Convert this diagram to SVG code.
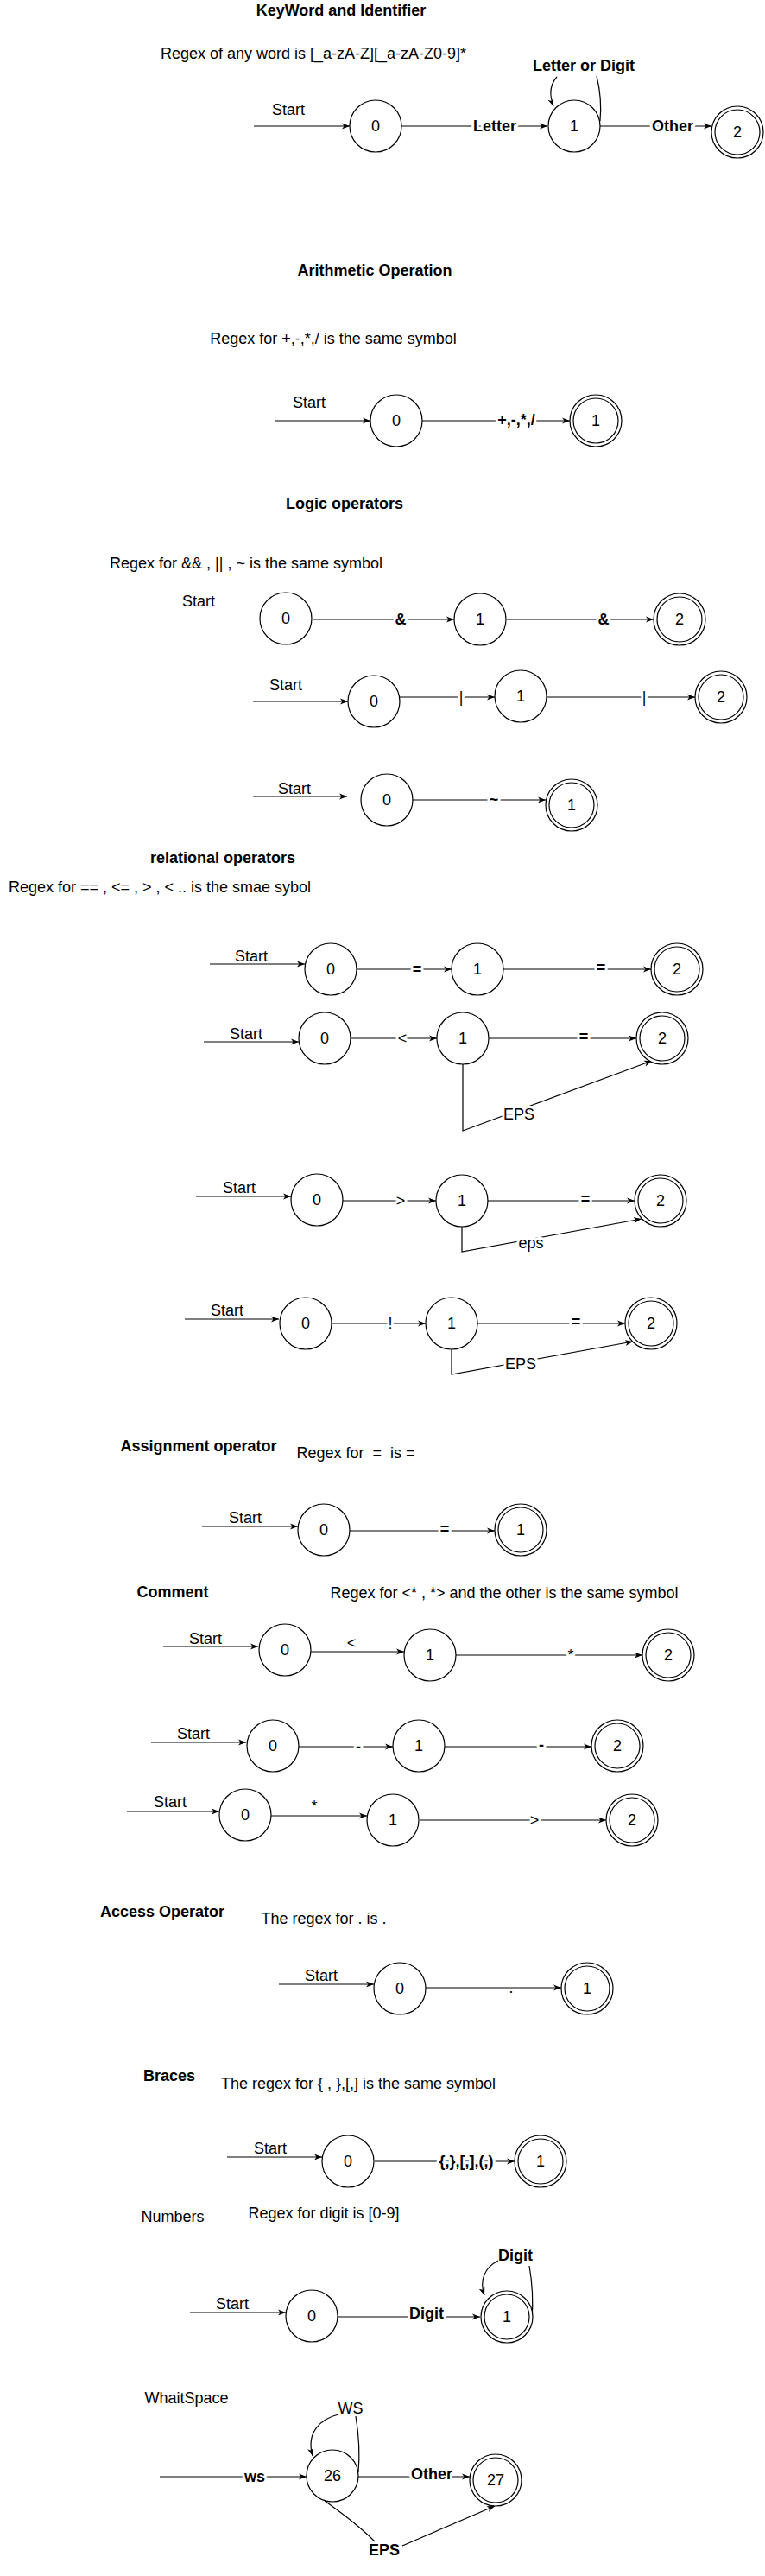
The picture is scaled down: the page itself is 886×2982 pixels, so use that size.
<svg xmlns="http://www.w3.org/2000/svg" width="886" height="2982" viewBox="0 0 886 2982">
<style>
text{font-family:"Liberation Sans",Arial,Helvetica,sans-serif;font-size:18px;fill:#000;text-anchor:middle}
.b{font-weight:bold}
.h{paint-order:stroke;stroke:#fff;stroke-width:6px;stroke-linejoin:round}
.c{fill:#fff;stroke:#000;stroke-width:1.2}
.i{fill:none;stroke:#000;stroke-width:1.2}
.e{fill:none;stroke:#000;stroke-width:1.2;marker-end:url(#a)}
.l{fill:none;stroke:#000;stroke-width:1.2}
</style>
<defs>
<marker id="a" markerUnits="userSpaceOnUse" markerWidth="10" markerHeight="8" refX="9" refY="4" orient="auto">
<path d="M0,0.5 L9,4 L0,7.5 L2.5,4 z" fill="#000"/>
</marker>
</defs>
<rect width="886" height="2982" fill="#fff"/>

<g id="connectors">
<!-- Section 1 -->
<path class="e" d="M294,146 L405,146"/>
<path class="e" d="M465,146 L634,146"/>
<path class="e" d="M695,146 L824,146"/>
<path class="l" d="M695,140 C697,118 694,100 691,88"/>
<path class="e" d="M645,89 C637,98 636,110 641,123"/>
<!-- Section 2 -->
<path class="e" d="M319,487 L429,487"/>
<path class="e" d="M489,487 L660,487"/>
<!-- Logic -->
<path class="e" d="M362,717 L526,717"/>
<path class="e" d="M587,717 L757,717"/>
<path class="e" d="M293,812 L403,812"/>
<path class="e" d="M463,807 L573,807"/>
<path class="e" d="M633,807 L805,807"/>
<path class="e" d="M293,922 L402,922"/>
<path class="e" d="M478,926 L632,926"/>
<!-- Relational -->
<path class="e" d="M243,1116 L353,1116"/>
<path class="e" d="M413,1122 L523,1122"/>
<path class="e" d="M583,1122 L754,1122"/>
<path class="e" d="M236,1206 L346,1206"/>
<path class="e" d="M406,1202 L506,1202"/>
<path class="e" d="M566,1202 L737,1202"/>
<path class="e" d="M536,1232 L536,1309 L755,1228"/>
<path class="e" d="M227,1385 L337,1385"/>
<path class="e" d="M397,1390 L505,1390"/>
<path class="e" d="M565,1390 L735,1390"/>
<path class="e" d="M535,1420 L535,1449 L743,1411"/>
<path class="e" d="M214,1527 L323,1527"/>
<path class="e" d="M384,1532 L493,1532"/>
<path class="e" d="M553,1532 L724,1532"/>
<path class="e" d="M523,1562 L523,1591 L733,1553"/>
<!-- Assignment -->
<path class="e" d="M234,1767 L345,1767"/>
<path class="e" d="M405,1772 L573,1772"/>
<!-- Comment -->
<path class="e" d="M189,1906 L299,1906"/>
<path class="e" d="M360,1912 L468,1912"/>
<path class="e" d="M528,1916 L744,1916"/>
<path class="e" d="M175,2017 L285,2017"/>
<path class="e" d="M346,2022 L455,2022"/>
<path class="e" d="M515,2022 L685,2022"/>
<path class="e" d="M147,2097 L254,2097"/>
<path class="e" d="M314,2102 L425,2102"/>
<path class="e" d="M486,2107 L702,2107"/>
<!-- Access -->
<path class="e" d="M323,2297 L433,2297"/>
<path class="e" d="M493,2301 L650,2301"/>
<!-- Braces -->
<path class="e" d="M263,2497 L373,2497"/>
<path class="e" d="M434,2502 L596,2502"/>
<!-- Numbers -->
<path class="e" d="M220,2677 L331,2677"/>
<path class="e" d="M391,2682 L556,2682"/>
<path class="l" d="M616,2685 C618,2660 616,2640 613,2623"/>
<path class="e" d="M577,2617 C561,2625 555,2640 561,2657"/>
<!-- Whitespace -->
<path class="e" d="M185,2867 L355,2867"/>
<path class="e" d="M415,2867 L544,2867"/>
<path class="l" d="M415,2862 C417,2840 415,2815 412,2797"/>
<path class="e" d="M392,2795 C372,2800 354,2815 362,2843"/>
<path class="l" d="M376,2895 C400,2912 422,2930 434,2942"/>
<path class="e" d="M466,2947 L573,2901"/>
</g>

<g id="labels">
<text class="b" x="395" y="18">KeyWord and Identifier</text>
<text x="363" y="68">Regex of any word is [_a-zA-Z][_a-zA-Z0-9]*</text>
<text x="334" y="133">Start</text>
<text class="b h" x="573" y="152">Letter</text>
<text class="b h" x="779" y="152">Other</text>
<text class="b" x="676" y="82">Letter or Digit</text>

<text class="b" x="434" y="319">Arithmetic Operation</text>
<text x="386" y="398">Regex for +,-,*,/ is the same symbol</text>
<text x="358" y="472">Start</text>
<text class="b h" x="598" y="492">+,-,*,/</text>

<text class="b" x="399" y="589">Logic operators</text>
<text x="285" y="658">Regex for &amp;&amp; , || , ~ is the same symbol</text>
<text x="230" y="702">Start</text>
<text class="b h" x="464" y="723">&amp;</text>
<text class="b h" x="699" y="723">&amp;</text>
<text x="331" y="799">Start</text>
<text class="h" x="534" y="813">|</text>
<text class="h" x="746" y="813">|</text>
<text x="341" y="919">Start</text>
<text class="b h" x="572" y="932">~</text>

<text class="b" x="258" y="999">relational operators</text>
<text x="185" y="1033">Regex for == , &lt;= , &gt; , &lt; .. is the smae sybol</text>
<text x="291" y="1113">Start</text>
<text class="b h" x="483" y="1128">=</text>
<text class="b h" x="696" y="1126">=</text>
<text x="285" y="1203">Start</text>
<text class="h" x="466" y="1208">&lt;</text>
<text class="b h" x="676" y="1206">=</text>
<text class="h" x="601" y="1296">EPS</text>
<text x="277" y="1381">Start</text>
<text class="h" x="464" y="1396">&gt;</text>
<text class="b h" x="678" y="1394">=</text>
<text class="h" x="615" y="1445">eps</text>
<text x="263" y="1523">Start</text>
<text class="h" x="452" y="1538">!</text>
<text class="b h" x="667" y="1536">=</text>
<text class="h" x="603" y="1585">EPS</text>

<text class="b" x="230" y="1680">Assignment operator</text>
<text x="412" y="1688" xml:space="preserve">Regex for  =  is =</text>
<text x="284" y="1763">Start</text>
<text class="b h" x="515" y="1776">=</text>

<text class="b" x="200" y="1849">Comment</text>
<text x="584" y="1850">Regex for &lt;* , *&gt; and the other is the same symbol</text>
<text x="238" y="1903">Start</text>
<text x="407" y="1908">&lt;</text>
<text class="h" x="661" y="1922">*</text>
<text x="224" y="2013">Start</text>
<text class="b h" x="415" y="2028">-</text>
<text class="b h" x="627" y="2026">-</text>
<text x="197" y="2092">Start</text>
<text x="364" y="2097">*</text>
<text class="h" x="619" y="2113">&gt;</text>

<text class="b" x="188" y="2219">Access Operator</text>
<text x="375" y="2227">The regex for . is .</text>
<text x="372" y="2293">Start</text>
<text class="h" x="592" y="2307">.</text>

<text class="b" x="196" y="2409">Braces</text>
<text x="415" y="2418">The regex for { , },[,] is the same symbol</text>
<text x="313" y="2493">Start</text>
<text class="b h" x="540" y="2508">{,},[,],(,)</text>

<text x="200" y="2572">Numbers</text>
<text x="375" y="2568">Regex for digit is [0-9]</text>
<text x="269" y="2673">Start</text>
<text class="b h" x="494" y="2684">Digit</text>
<text class="b" x="597" y="2617">Digit</text>

<text x="216" y="2782">WhaitSpace</text>
<text x="406" y="2794">WS</text>
<text class="b h" x="295" y="2873">ws</text>
<text class="b h" x="500" y="2870">Other</text>
<text class="b" x="445" y="2958">EPS</text>
</g>

<g id="s1-n0"><circle class="c" cx="435" cy="146" r="30"/><text x="435" y="152">0</text></g>
<g id="s1-n1"><circle class="c" cx="665" cy="146" r="30"/><text x="665" y="152">1</text></g>
<g id="s1-n2"><circle class="c" cx="854" cy="153" r="30"/><circle class="i" cx="854" cy="153" r="26"/><text x="854" y="159">2</text></g>

<g id="s2-n0"><circle class="c" cx="459" cy="487" r="30"/><text x="459" y="493">0</text></g>
<g id="s2-n1"><circle class="c" cx="690" cy="487" r="30"/><circle class="i" cx="690" cy="487" r="26"/><text x="690" y="493">1</text></g>

<g id="s3a-n0"><circle class="c" cx="331" cy="716" r="30"/><text x="331" y="722">0</text></g>
<g id="s3a-n1"><circle class="c" cx="556" cy="717" r="30"/><text x="556" y="723">1</text></g>
<g id="s3a-n2"><circle class="c" cx="787" cy="717" r="30"/><circle class="i" cx="787" cy="717" r="26"/><text x="787" y="723">2</text></g>
<g id="s3b-n0"><circle class="c" cx="433" cy="812" r="30"/><text x="433" y="818">0</text></g>
<g id="s3b-n1"><circle class="c" cx="603" cy="806" r="30"/><text x="603" y="812">1</text></g>
<g id="s3b-n2"><circle class="c" cx="835" cy="807" r="30"/><circle class="i" cx="835" cy="807" r="26"/><text x="835" y="813">2</text></g>
<g id="s3c-n0"><circle class="c" cx="448" cy="926" r="30"/><text x="448" y="932">0</text></g>
<g id="s3c-n1"><circle class="c" cx="662" cy="932" r="30"/><circle class="i" cx="662" cy="932" r="26"/><text x="662" y="938">1</text></g>

<g id="s4a-n0"><circle class="c" cx="383" cy="1122" r="30"/><text x="383" y="1128">0</text></g>
<g id="s4a-n1"><circle class="c" cx="553" cy="1122" r="30"/><text x="553" y="1128">1</text></g>
<g id="s4a-n2"><circle class="c" cx="784" cy="1122" r="30"/><circle class="i" cx="784" cy="1122" r="26"/><text x="784" y="1128">2</text></g>
<g id="s4b-n0"><circle class="c" cx="376" cy="1202" r="30"/><text x="376" y="1208">0</text></g>
<g id="s4b-n1"><circle class="c" cx="536" cy="1202" r="30"/><text x="536" y="1208">1</text></g>
<g id="s4b-n2"><circle class="c" cx="767" cy="1202" r="30"/><circle class="i" cx="767" cy="1202" r="26"/><text x="767" y="1208">2</text></g>
<g id="s4c-n0"><circle class="c" cx="367" cy="1389" r="30"/><text x="367" y="1395">0</text></g>
<g id="s4c-n1"><circle class="c" cx="535" cy="1390" r="30"/><text x="535" y="1396">1</text></g>
<g id="s4c-n2"><circle class="c" cx="765" cy="1390" r="30"/><circle class="i" cx="765" cy="1390" r="26"/><text x="765" y="1396">2</text></g>
<g id="s4d-n0"><circle class="c" cx="354" cy="1532" r="30"/><text x="354" y="1538">0</text></g>
<g id="s4d-n1"><circle class="c" cx="523" cy="1532" r="30"/><text x="523" y="1538">1</text></g>
<g id="s4d-n2"><circle class="c" cx="754" cy="1532" r="30"/><circle class="i" cx="754" cy="1532" r="26"/><text x="754" y="1538">2</text></g>

<g id="s5-n0"><circle class="c" cx="375" cy="1771" r="30"/><text x="375" y="1777">0</text></g>
<g id="s5-n1"><circle class="c" cx="603" cy="1771" r="30"/><circle class="i" cx="603" cy="1771" r="26"/><text x="603" y="1777">1</text></g>

<g id="s6a-n0"><circle class="c" cx="330" cy="1910" r="30"/><text x="330" y="1916">0</text></g>
<g id="s6a-n1"><circle class="c" cx="498" cy="1916" r="30"/><text x="498" y="1922">1</text></g>
<g id="s6a-n2"><circle class="c" cx="774" cy="1916" r="30"/><circle class="i" cx="774" cy="1916" r="26"/><text x="774" y="1922">2</text></g>
<g id="s6b-n0"><circle class="c" cx="316" cy="2021" r="30"/><text x="316" y="2027">0</text></g>
<g id="s6b-n1"><circle class="c" cx="485" cy="2021" r="30"/><text x="485" y="2027">1</text></g>
<g id="s6b-n2"><circle class="c" cx="715" cy="2021" r="30"/><circle class="i" cx="715" cy="2021" r="26"/><text x="715" y="2027">2</text></g>
<g id="s6c-n0"><circle class="c" cx="284" cy="2101" r="30"/><text x="284" y="2107">0</text></g>
<g id="s6c-n1"><circle class="c" cx="455" cy="2107" r="30"/><text x="455" y="2113">1</text></g>
<g id="s6c-n2"><circle class="c" cx="732" cy="2107" r="30"/><circle class="i" cx="732" cy="2107" r="26"/><text x="732" y="2113">2</text></g>

<g id="s7-n0"><circle class="c" cx="463" cy="2302" r="30"/><text x="463" y="2308">0</text></g>
<g id="s7-n1"><circle class="c" cx="680" cy="2302" r="30"/><circle class="i" cx="680" cy="2302" r="26"/><text x="680" y="2308">1</text></g>

<g id="s8-n0"><circle class="c" cx="403" cy="2502" r="30"/><text x="403" y="2508">0</text></g>
<g id="s8-n1"><circle class="c" cx="626" cy="2502" r="30"/><circle class="i" cx="626" cy="2502" r="26"/><text x="626" y="2508">1</text></g>

<g id="s9-n0"><circle class="c" cx="361" cy="2681" r="30"/><text x="361" y="2687">0</text></g>
<g id="s9-n1"><circle class="c" cx="587" cy="2682" r="30"/><circle class="i" cx="587" cy="2682" r="26"/><text x="587" y="2688">1</text></g>

<g id="s10-n26"><circle class="c" cx="385" cy="2866" r="30"/><text x="385" y="2872">26</text></g>
<g id="s10-n27"><circle class="c" cx="574" cy="2871" r="30"/><circle class="i" cx="574" cy="2871" r="26"/><text x="574" y="2877">27</text></g>
</svg>
